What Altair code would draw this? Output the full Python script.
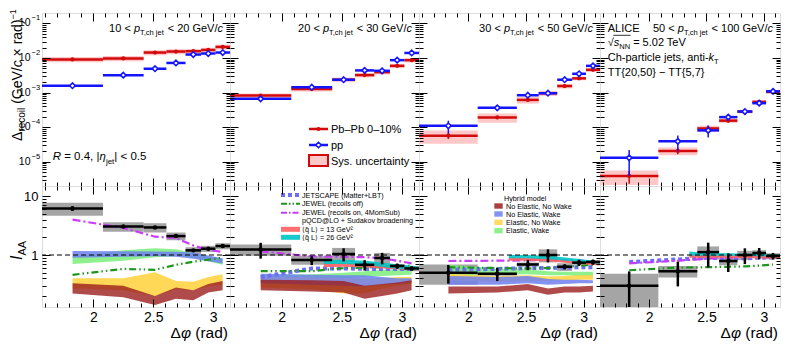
import math
import altair as alt
import pandas as pd

FONT = "Liberation Sans"

# ------------------------------------------------------------------ data
bin_lo = [1.5708, 2.08, 2.42, 2.61, 2.77, 2.90, 3.02]
bin_hi = [2.08, 2.42, 2.61, 2.77, 2.90, 3.02, 3.1416]

pt_lo = ["10", "20", "30", "50"]
pt_hi = ["20", "30", "50", "100"]

pp_vals = [
    [1.58e-3, 3.2e-3, 4.9e-3, 7.2e-3, 1.26e-2, 1.35e-2, 1.44e-2],
    [6.6e-4, 1.43e-3, 2.36e-3, 4.38e-3, 4.27e-3, 8.67e-3, 1.40e-2],
    [1.10e-4, 3.63e-4, 8.4e-4, 9.6e-4, 2.36e-3, 3.50e-3, 5.94e-3],
    [1.30e-5, 3.91e-5, 8.1e-5, 1.96e-4, 2.84e-4, 4.95e-4, 1.09e-3],
]
pp_stat = [
    [0.04, 0.04, 0.04, 0.04, 0.04, 0.04, 0.04],
    [0.08, 0.06, 0.06, 0.06, 0.06, 0.05, 0.05],
    [0.40, 0.18, 0.13, 0.12, 0.09, 0.09, 0.07],
    [0.70, 0.48, 0.38, 0.22, 0.19, 0.12, 0.07],
]
pbpb_vals = [
    [9.1e-3, 9.7e-3, 1.44e-2, 1.54e-2, 1.57e-2, 1.71e-2, 2.09e-2],
    [8.2e-4, 1.27e-3, 2.36e-3, 3.21e-3, 3.9e-3, 5.94e-3, 8.67e-3],
    [5.7e-5, 1.91e-4, 6.15e-4, 9.6e-4, 1.55e-3, 2.58e-3, 4.56e-3],
    [3.9e-6, 2.07e-5, 9.2e-5, 1.55e-4, 2.84e-4, 5.4e-4, 1.05e-3],
]
pbpb_stat = [
    [0.04, 0.04, 0.04, 0.04, 0.04, 0.04, 0.04],
    [0.07, 0.06, 0.05, 0.05, 0.05, 0.04, 0.04],
    [0.20, 0.10, 0.07, 0.07, 0.05, 0.05, 0.04],
    [0.40, 0.20, 0.20, 0.12, 0.10, 0.07, 0.05],
]
pbpb_sys = [
    [0.17, 0.17, 0.17, 0.17, 0.16, 0.16, 0.16],
    [0.15, 0.15, 0.15, 0.14, 0.14, 0.14, 0.14],
    [0.42, 0.30, 0.22, 0.17, 0.15, 0.12, 0.12],
    [0.45, 0.25, 0.20, 0.15, 0.12, 0.12, 0.12],
]

iaa_vals = [
    [6.2, 3.05, 2.95, 2.1, 1.2, 1.28, 1.42],
    [1.24, 0.82, 1.04, 0.68, 0.89, 0.65, 0.59],
    [0.50, 0.48, 0.69, 1.0, 0.63, 0.74, 0.76],
    [0.30, 0.53, 1.12, 0.79, 1.0, 1.08, 0.96],
]
iaa_stat = [
    [0.09, 0.05, 0.06, 0.06, 0.05, 0.05, 0.05],
    [0.30, 0.18, 0.25, 0.20, 0.22, 0.10, 0.08],
    [0.35, 0.25, 0.20, 0.25, 0.10, 0.12, 0.10],
    [0.75, 0.45, 0.45, 0.35, 0.30, 0.22, 0.13],
]
iaa_sys = [
    [0.25, 0.18, 0.18, 0.15, 0.13, 0.12, 0.12],
    [0.22, 0.17, 0.27, 0.10, 0.22, 0.08, 0.10],
    [0.38, 0.08, 0.08, 0.25, 0.15, 0.08, 0.08],
    [0.60, 0.22, 0.25, 0.15, 0.18, 0.12, 0.12],
]
ref_level = [1.0]

model_x = [1.826, 2.25, 2.515, 2.69, 2.835, 2.96, 3.08]
jewel_on = [
    [4.0, 2.9, 2.05, 1.95, 1.45, 1.22, 1.13],
    [1.15, 0.95, 0.93, 0.92, 0.88, 0.80, 0.72],
    [0.79, 0.80, 0.81, 0.82, 0.82, 0.80, 0.78],
    [0.72, 0.80, 0.87, 0.90, 0.92, 0.95, 0.97],
]
jewel_off = [
    [0.46, 0.58, 0.56, 0.68, 0.77, 0.83, 0.90],
    [0.53, 0.53, 0.60, 0.61, 0.62, 0.64, 0.66],
    [0.62, 0.60, 0.59, 0.60, 0.63, 0.66, 0.68],
    [0.55, 0.61, 0.62, 0.63, 0.64, 0.66, 0.69],
]
jetscape = [
    None,
    [0.42, 0.59, 0.59, 0.58, 0.58, 0.58, 0.58],
    [0.56, 0.58, 0.60, 0.60, 0.61, 0.62, 0.62],
    [0.76, 0.84, 0.90, 0.87, 0.88, 0.90, 0.91],
]

pqcd_x = [2.35, 2.5, 2.7, 2.9, 3.14]
q13_lo = [None, [0.62, 0.63, 0.62, 0.58, 0.55], [0.80, 0.80, 0.78, 0.72, 0.66], [0.90, 0.90, 0.90, 0.88, 0.86]]
q13_hi = [None, [0.72, 0.74, 0.72, 0.68, 0.64], [0.90, 0.90, 0.88, 0.80, 0.74], [1.00, 1.00, 0.99, 0.97, 0.95]]
q26_lo = [None, [0.70, 0.70, 0.68, 0.60, 0.55], [0.88, 0.88, 0.85, 0.78, 0.70], [0.98, 0.97, 0.97, 0.96, 0.93]]
q26_hi = [None, [0.82, 0.83, 0.80, 0.72, 0.64], [1.00, 1.00, 0.97, 0.88, 0.78], [1.15, 1.08, 1.07, 1.05, 1.02]]

hyb_ew_lo = [[0.70, 0.80, 0.92, 0.95, 0.90, 0.78, 0.68], [0.38, 0.38, 0.40, 0.42, 0.44, 0.45, 0.46], [0.45, 0.46, 0.47, 0.45, 0.45, 0.44, 0.43], None]
hyb_ew_hi = [[0.95, 1.20, 1.30, 1.25, 1.08, 0.93, 0.86], [0.46, 0.47, 0.50, 0.53, 0.56, 0.57, 0.57], [0.68, 0.58, 0.57, 0.53, 0.52, 0.52, 0.52], None]
hyb_enw_lo = [[0.27, 0.25, 0.20, 0.26, 0.25, 0.29, 0.31], [0.28, 0.26, 0.22, 0.22, 0.27, 0.30, 0.32], [0.36, 0.35, 0.36, 0.36, 0.37, 0.38, 0.38], None]
hyb_enw_hi = [[0.40, 0.40, 0.51, 0.36, 0.35, 0.42, 0.47], [0.42, 0.42, 0.40, 0.40, 0.40, 0.42, 0.42], [0.48, 0.44, 0.45, 0.43, 0.44, 0.45, 0.45], None]
hyb_new_lo = [[0.90, 0.93, 0.95, 0.93, 0.86, 0.78, 0.72], [0.33, 0.31, 0.30, 0.29, 0.31, 0.32, 0.34], [0.31, 0.31, 0.33, 0.31, 0.32, 0.33, 0.33], None]
hyb_new_hi = [[1.17, 1.16, 1.15, 1.14, 1.10, 0.98, 0.88], [0.48, 0.46, 0.45, 0.45, 0.42, 0.40, 0.40], [0.44, 0.42, 0.44, 0.39, 0.38, 0.38, 0.37], None]
hyb_nenw_lo = [[0.22, 0.19, 0.14, 0.18, 0.17, 0.23, 0.25], [0.25, 0.24, 0.23, 0.18, 0.20, 0.22, 0.25], [0.22, 0.23, 0.25, 0.21, 0.23, 0.23, 0.24], None]
hyb_nenw_hi = [[0.33, 0.30, 0.20, 0.28, 0.25, 0.32, 0.36], [0.38, 0.37, 0.36, 0.30, 0.32, 0.34, 0.37], [0.29, 0.29, 0.32, 0.27, 0.29, 0.29, 0.30], None]

top_label_vals = [1e-1, 1e-2, 1e-3, 1e-4, 1e-5]
top_label_sup = ["\u22121", "\u22122", "\u22123", "\u22124", "\u22125"]

# ------------------------------------------------------------------ layout / style
XDOM = [math.pi / 2, math.pi]
TOP_DOM = [2e-6, 0.2]
BOT_DOM = [0.13, 15.0]
WIDTHS = [188, 189, 181, 180]
H_TOP = 173
H_BOT = 121

X_MAJ = [2.0, 2.5, 3.0]
X_MIN = [1.6, 1.7, 1.8, 1.9, 2.1, 2.2, 2.3, 2.4, 2.6, 2.7, 2.8, 2.9, 3.1]
TOP_MAJ = [1e-5, 1e-4, 1e-3, 1e-2, 1e-1]
TOP_MIN = [m * 10.0 ** e for e in range(-6, 0) for m in range(2, 10)
           if TOP_DOM[0] * 1.01 < m * 10.0 ** e < TOP_DOM[1] * 0.99]
BOT_MAJ = [1.0, 10.0]
BOT_MIN = [0.2, 0.3, 0.4, 0.5, 0.6, 0.7, 0.8, 0.9, 2, 3, 4, 5, 6, 7, 8, 9]

RED = "#d20a0a"
BLUE = "#1414ff"
PINK = "#ffc8c8"
GREY = "#a0a0a0"
C_JS = "#6e6ef5"
C_JOFF = "#1e961e"
C_JON = "#c83cf8"
C_Q13 = "#ff5f5f"
C_Q26 = "#00c4c4"
C_HR = "#9b1e1e"
C_HB = "#6f80f0"
C_HG = "#ffd54a"
C_HGR = "#7aee7a"

centers = [(a + b) / 2 for a, b in zip(bin_lo, bin_hi)]
ONE = pd.DataFrame({"z": [0]})

CW = {ch: 0.556 for ch in "0123456789"}
CW.update({" ": .278, "<": .584, ">": .584, "=": .584, "+": .584, "\u2212": .584, "\u00d7": .584,
           "\u2013": .556, ",": .278, ".": .278, "/": .278, "|": .26, "(": .333, ")": .333,
           "{": .334, "}": .334, "%": .889, "@": 1.015, "-": .333,
           "A": .667, "B": .667, "C": .722, "D": .722, "E": .667, "G": .778, "H": .722, "I": .278,
           "J": .5, "L": .556, "M": .833, "N": .722, "O": .778, "P": .667, "Q": .778, "R": .722,
           "S": .667, "T": .611, "V": .667, "W": .944,
           "a": .556, "b": .556, "c": .5, "d": .556, "e": .556, "f": .278, "g": .556, "h": .556,
           "i": .222, "j": .222, "k": .5, "l": .222, "m": .833, "n": .556, "o": .556, "p": .556,
           "q": .556, "r": .333, "s": .5, "t": .278, "u": .556, "v": .5, "w": .722, "x": .5,
           "y": .5, "z": .5, "\u0394": .668, "\u03c6": .65, "\u03b7": .556, "\u221a": .549})


def tw(s, size):
    return sum(CW.get(ch, 0.556) for ch in s) * size


def label(t, x, y, size, italic=False, align="left", angle=0, color="black", baseline="alphabetic"):
    return alt.Chart(ONE).mark_text(
        text=t, font=FONT, fontSize=size, fontStyle="italic" if italic else "normal",
        align=align, baseline=baseline, angle=angle, color=color,
    ).encode(x=alt.value(x), y=alt.value(y))


def runs(items, x, y, align="left", rotate=False):
    """Lay out text pieces one after another; edge spaces are turned into explicit advances."""
    total = sum(tw(t, s) for t, s, _, _ in items)
    adv = -total if align == "right" else 0.0
    out = []
    for t, s, it, sh in items:
        lead = len(t) - len(t.lstrip(" "))
        core = t.strip(" ")
        a = adv + lead * CW[" "] * s
        if core:
            if rotate:
                out.append(label(core, x + sh, y - a, s, it, angle=270))
            else:
                out.append(label(core, x + a, y + sh, s, it))
        adv += tw(t, s)
    return out


def hrule(x1, x2, y, color, sw, dash=None):
    kw = dict(color=color, strokeWidth=sw, strokeCap="butt")
    if dash:
        kw["strokeDash"] = dash
    return alt.Chart(ONE).mark_rule(**kw).encode(x=alt.value(x1), x2=alt.value(x2), y=alt.value(y))


def box(x1, x2, y1, y2, fill, opacity=1.0, stroke=None, sw=0):
    kw = dict(fill=fill, fillOpacity=opacity)
    if stroke:
        kw.update(stroke=stroke, strokeWidth=sw)
    return alt.Chart(ONE).mark_rect(**kw).encode(
        x=alt.value(x1), x2=alt.value(x2), y=alt.value(y1), y2=alt.value(y2))


def axis_layers(ydom, ymaj, ymin, show_x, show_y, ylab_expr):
    xs = alt.Scale(domain=XDOM, nice=False, zero=False)
    ys = alt.Scale(domain=ydom, type="log", nice=False)
    dummy = pd.DataFrame({"ax": [2.5], "ay": [math.sqrt(ydom[0] * ydom[1])]})
    com = dict(grid=False, domain=False, tickColor="black", tickWidth=1, title=None, zindex=3,
               labelFont=FONT, labelColor="black", labelOverlap=False, labelFlush=False)

    def ax(orient, values, size, **kw):
        return alt.Axis(orient=orient, values=values, tickSize=size, offset=-size, **com, **kw)

    specs = [
        (ax("bottom", X_MAJ, 8, labels=show_x, labelFontSize=14, labelPadding=3, format="~g"),
         ax("left", ymaj, 8, labels=show_y, labelFontSize=13, labelPadding=4, labelExpr=ylab_expr)),
        (ax("bottom", X_MIN, 4, labels=False), ax("left", ymin, 4, labels=False)),
        (ax("top", X_MAJ, 8, labels=False), ax("right", ymaj, 8, labels=False)),
        (ax("top", X_MIN, 4, labels=False), ax("right", ymin, 4, labels=False)),
    ]
    out = []
    for xa, ya in specs:
        out.append(alt.Chart(dummy).mark_point(opacity=0, size=1).encode(
            x=alt.X("ax:Q", scale=xs, axis=xa), y=alt.Y("ay:Q", scale=ys, axis=ya)))
    return out


def top_panel(k):
    w = WIDTHS[k]
    xs = alt.Scale(domain=XDOM, nice=False, zero=False)
    ys = alt.Scale(domain=TOP_DOM, type="log", nice=False)

    def X(f):
        return alt.X(f + ":Q", scale=xs, axis=None)

    def Y(f):
        return alt.Y(f + ":Q", scale=ys, axis=None)

    aa, pp = pbpb_vals[k], pp_vals[k]
    d = pd.DataFrame({
        "lo": bin_lo, "hi": bin_hi, "c": centers,
        "aa": aa,
        "aa_elo": [v * (1 - e) for v, e in zip(aa, pbpb_stat[k])],
        "aa_ehi": [v * (1 + e) for v, e in zip(aa, pbpb_stat[k])],
        "aa_slo": [v * (1 - e) for v, e in zip(aa, pbpb_sys[k])],
        "aa_shi": [v * (1 + e) for v, e in zip(aa, pbpb_sys[k])],
        "pp": pp,
        "pp_elo": [v * (1 - e) for v, e in zip(pp, pp_stat[k])],
        "pp_ehi": [v * (1 + e) for v, e in zip(pp, pp_stat[k])],
    })
    b = alt.Chart(d)
    L = [
        b.mark_rect(color=PINK, clip=True).encode(x=X("lo"), x2="hi", y=Y("aa_slo"), y2="aa_shi"),
        b.mark_rule(color=RED, strokeWidth=1.5, clip=True).encode(x=X("c"), y=Y("aa_elo"), y2="aa_ehi"),
        b.mark_rule(color=RED, strokeWidth=2.5, clip=True).encode(x=X("lo"), x2="hi", y=Y("aa")),
        b.mark_point(shape="circle", filled=True, color=RED, size=18, opacity=1, clip=True).encode(x=X("c"), y=Y("aa")),
        b.mark_rule(color=BLUE, strokeWidth=1.5, clip=True).encode(x=X("c"), y=Y("pp_elo"), y2="pp_ehi"),
        b.mark_rule(color=BLUE, strokeWidth=2.5, clip=True).encode(x=X("lo"), x2="hi", y=Y("pp")),
        b.mark_point(shape="diamond", fill="white", fillOpacity=1, stroke=BLUE, strokeWidth=1.6,
                     size=30, opacity=1, clip=True).encode(x=X("c"), y=Y("pp")),
    ]
    L += axis_layers(TOP_DOM, TOP_MAJ, TOP_MIN, False, False, "''")
    # panel title
    L += runs([(pt_lo[k] + " < ", 11, False, 0), ("p", 11, True, 0), ("T,ch jet", 7.5, False, 3.5),
               (" < " + pt_hi[k] + " GeV/", 11, False, 0), ("c", 11, True, 0)], w - 7, 18.5, align="right")
    if k == 0:
        lab = pd.DataFrame({"yv": top_label_vals, "sup": top_label_sup})
        L.append(alt.Chart(lab).mark_text(text="10", font=FONT, fontSize=10.5, align="right", baseline="middle",
                                          color="black").encode(x=alt.value(-11.5), y=Y("yv")))
        L.append(alt.Chart(lab).mark_text(font=FONT, fontSize=7.5, align="left", baseline="middle", dy=-5,
                                          color="black").encode(x=alt.value(-10.5), y=Y("yv"), text="sup:N"))
        L += runs([("\u0394", 14, False, 0), ("recoil", 10, False, 3), (" (GeV/", 14, False, 0),
                   ("c", 14, True, 0), (" \u00d7 rad)", 14, False, 0), ("\u22121", 9, False, -6)],
                  -20, 128, rotate=True)
        L += runs([("R", 11.5, True, 0), (" = 0.4, |", 11.5, False, 0), ("\u03b7", 11.5, True, 0),
                   ("jet", 8, False, 3.5), ("| < 0.5", 11.5, False, 0)], 10.7, 147)
    if k == 1:
        L += [
            hrule(79, 98, 116, RED, 2.5),
            alt.Chart(ONE).mark_point(shape="circle", filled=True, color=RED, size=18, opacity=1).encode(
                x=alt.value(88.5), y=alt.value(116)),
            hrule(79, 98, 132, BLUE, 2.5),
            alt.Chart(ONE).mark_point(shape="diamond", fill="white", fillOpacity=1, stroke=BLUE, strokeWidth=1.6,
                                      size=30, opacity=1).encode(x=alt.value(88.5), y=alt.value(132)),
            box(79, 98, 142, 153, PINK, 1.0, RED, 2),
            label("Pb\u2013Pb 0\u201310%", 101, 120, 11),
            label("pp", 101, 136, 11),
            label("Sys. uncertainty", 101, 151.5, 11),
        ]
    if k == 3:
        x0 = 7.7
        L += [label("ALICE", x0, 18.5, 11)]
        L += runs([("\u221a", 11, False, 0), ("s", 11, True, 0), ("NN", 7.5, False, 3),
                   (" = 5.02 TeV", 11, False, 0)], x0, 33)
        L += [hrule(x0 + 5.6, x0 + 6 + tw("s", 11) + tw("NN", 7.5) + 0.5, 22.3, "black", 0.8)]
        L += runs([("Ch-particle jets, anti-", 11, False, 0), ("k", 11, True, 0), ("T", 7.5, False, 3)], x0, 48)
        L += [label("TT{20,50} \u2212 TT{5,7}", x0, 62.5, 11)]
    return alt.layer(*L).resolve_axis(x="independent", y="independent").properties(width=w, height=H_TOP)


def bot_panel(k):
    w = WIDTHS[k]
    xs = alt.Scale(domain=XDOM, nice=False, zero=False)
    ys = alt.Scale(domain=BOT_DOM, type="log", nice=False)

    def X(f):
        return alt.X(f + ":Q", scale=xs, axis=None)

    def Y(f):
        return alt.Y(f + ":Q", scale=ys, axis=None)

    v = iaa_vals[k]
    d = pd.DataFrame({
        "lo": bin_lo, "hi": bin_hi, "c": centers, "v": v,
        "elo": [a * (1 - e) for a, e in zip(v, iaa_stat[k])],
        "ehi": [a * (1 + e) for a, e in zip(v, iaa_stat[k])],
        "slo": [a * (1 - e) for a, e in zip(v, iaa_sys[k])],
        "shi": [a * (1 + e) for a, e in zip(v, iaa_sys[k])],
    })
    b = alt.Chart(d)
    L = [b.mark_rect(color=GREY, opacity=0.95, clip=True).encode(x=X("lo"), x2="hi", y=Y("slo"), y2="shi")]

    if hyb_ew_lo[k] is not None:
        for lo, hi, col, op in [(hyb_ew_lo, hyb_ew_hi, C_HGR, 0.85), (hyb_enw_lo, hyb_enw_hi, C_HG, 0.92),
                                (hyb_new_lo, hyb_new_hi, C_HB, 0.85), (hyb_nenw_lo, hyb_nenw_hi, C_HR, 0.8)]:
            m = pd.DataFrame({"x": model_x, "lo": lo[k], "hi": hi[k]})
            L.append(alt.Chart(m).mark_area(color=col, opacity=op, clip=True).encode(
                x=X("x"), y=Y("lo"), y2="hi"))

    if jetscape[k] is not None:
        m = pd.DataFrame({"x": model_x, "y": jetscape[k]})
        L.append(alt.Chart(m).mark_line(color=C_JS, strokeWidth=4, strokeDash=[4, 3], strokeCap="butt",
                                        clip=True).encode(x=X("x"), y=Y("y")))
    m = pd.DataFrame({"x": model_x, "y": jewel_off[k]})
    L.append(alt.Chart(m).mark_line(color=C_JOFF, strokeWidth=2.2, strokeDash=[7, 3, 1.5, 3, 1.5, 3],
                                    clip=True).encode(x=X("x"), y=Y("y")))
    m = pd.DataFrame({"x": model_x, "y": jewel_on[k]})
    L.append(alt.Chart(m).mark_line(color=C_JON, strokeWidth=2.2, strokeDash=[8, 3, 2, 3],
                                    clip=True).encode(x=X("x"), y=Y("y")))

    if q13_lo[k] is not None:
        for lo, hi, col in [(q13_lo, q13_hi, C_Q13), (q26_lo, q26_hi, C_Q26)]:
            m = pd.DataFrame({"x": pqcd_x, "lo": lo[k], "hi": hi[k]})
            L.append(alt.Chart(m).mark_area(color=col, opacity=0.9, clip=True).encode(
                x=X("x"), y=Y("lo"), y2="hi"))

    L.append(alt.Chart(pd.DataFrame({"r": ref_level})).mark_rule(
        color="black", strokeWidth=1, strokeDash=[5, 3]).encode(y=Y("r")))

    L += [
        b.mark_rule(color="black", strokeWidth=2.5, clip=True).encode(x=X("c"), y=Y("elo"), y2="ehi"),
        b.mark_rule(color="black", strokeWidth=2.5, clip=True).encode(x=X("lo"), x2="hi", y=Y("v")),
        b.mark_point(shape="circle", filled=True, color="black", size=20, opacity=1, clip=True).encode(
            x=X("c"), y=Y("v")),
    ]
    L += axis_layers(BOT_DOM, BOT_MAJ, BOT_MIN, True, k == 0, "datum.value > 5 ? '10' : '1'")

    L += runs([("\u0394", 15.5, False, 0), ("\u03c6", 15.5, True, 0), (" (rad)", 15.5, False, 0)],
              w - 2, 152, align="right")

    if k == 0:
        L += runs([("I", 16, True, 0), ("AA", 11, False, 4)], -20, 74, rotate=True)
    if k == 1:
        rows = [9, 17.7, 26.7, 34.7, 43.3, 51.3]
        L += [
            hrule(51, 70, rows[0], C_JS, 4, [4, 3]),
            hrule(51, 70, rows[1], C_JOFF, 2, [6, 2, 1.5, 2, 1.5, 2]),
            hrule(51, 70, rows[2], C_JON, 2, [6, 2, 1.5, 2]),
            box(51, 70, rows[4] - 2.5, rows[4] + 2.5, C_Q13, 0.9),
            box(51, 70, rows[5] - 2.5, rows[5] + 2.5, C_Q26, 0.9),
        ]
        texts = ["JETSCAPE (Matter+LBT)", "JEWEL (recoils off)", "JEWEL (recoils on, 4MomSub)",
                 "pQCD@LO + Sudakov broadening", "\u27e8q\u0302 L\u27e9 = 13 GeV\u00b2",
                 "\u27e8q\u0302 L\u27e9 = 26 GeV\u00b2"]
        for r, t in zip(rows, texts):
            L.append(label(t, 72, r + 2.6, 7.2))
    if k == 2:
        L.append(label("Hybrid model", 85, 15, 7.2))
        rows = [20, 28, 36.3, 44.7]
        for r, col, t in zip(rows, [C_HR, C_HB, C_HG, C_HGR],
                             ["No Elastic, No Wake", "No Elastic, Wake", "Elastic, No Wake", "Elastic, Wake"]):
            L.append(box(75.3, 83.7, r - 2.7, r + 2.7, col, 0.85))
            L.append(label(t, 87, r + 2.6, 7.2))
    return alt.layer(*L).resolve_axis(x="independent", y="independent").properties(width=w, height=H_BOT)


panels = [top_panel(k) for k in range(4)] + [bot_panel(k) for k in range(4)]

chart = alt.concat(*panels, columns=4, spacing=0, bounds="flush", align="each").properties(
    padding=0
).configure_view(stroke="black", strokeWidth=1.5).configure(font=FONT)

chart.save("out.html", embed_options={"renderer": "svg", "actions": False})
